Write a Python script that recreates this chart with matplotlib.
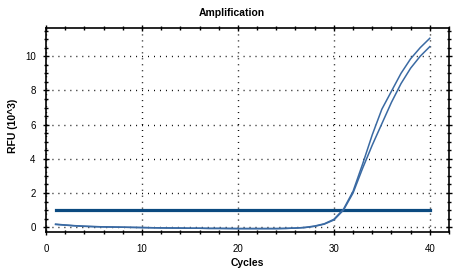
import numpy as np
import matplotlib
matplotlib.use("Agg")
import matplotlib.pyplot as plt
from matplotlib.ticker import MultipleLocator

plt.rcParams['font.family'] = ['Liberation Sans', 'DejaVu Sans']

cycles = list(range(1, 41))
rfu_a = [0.18, 0.13, 0.09, 0.06, 0.04, 0.02, 0.01, 0.0, -0.01, -0.02,
         -0.03, -0.04, -0.05, -0.05, -0.06, -0.06, -0.07, -0.07, -0.08, -0.08,
         -0.08, -0.08, -0.08, -0.08, -0.07, -0.05, -0.01, 0.07, 0.2, 0.46,
         1.05, 2.1, 3.7, 5.4, 6.9, 7.95, 9.0, 9.85, 10.5, 11.05]
rfu_b = [0.16, 0.12, 0.08, 0.05, 0.03, 0.02, 0.01, 0.0, -0.01, -0.02,
         -0.03, -0.04, -0.04, -0.05, -0.06, -0.06, -0.07, -0.07, -0.07, -0.08,
         -0.08, -0.08, -0.08, -0.08, -0.07, -0.05, -0.02, 0.05, 0.18, 0.42,
         1.0, 2.0, 3.45, 4.8, 6.05, 7.3, 8.4, 9.3, 10.0, 10.56]
threshold = 1.0
thr_x = [1, 40]

fig = plt.figure(figsize=(4.64, 2.76), dpi=100)
ax = fig.add_axes([46/464, 1-232/276, (449-46)/464, (232-28)/276])

ax.plot(thr_x, [threshold, threshold], color='#0b4a80', lw=2.3, zorder=3)
ax.plot(cycles, rfu_a, color='#3a6aa3', lw=1.1, zorder=4)
ax.plot(cycles, rfu_b, color='#3a6aa3', lw=1.1, zorder=4)

ax.set_xlim(0, 42)
ax.set_ylim(-0.28, 11.65)
ax.xaxis.set_major_locator(MultipleLocator(10))
ax.xaxis.set_minor_locator(MultipleLocator(2))
ax.yaxis.set_major_locator(MultipleLocator(2))
ax.yaxis.set_minor_locator(MultipleLocator(0.5))

ax.grid(True, which='major', color='black', lw=1.0, linestyle=(0, (0.7, 3.6)))
ax.tick_params(which='both', direction='inout', top=True, right=True,
               labelsize=7, width=1)
ax.tick_params(which='major', length=5)
ax.tick_params(which='minor', length=2.5)
ax.tick_params(axis='x', pad=6)
ax.tick_params(axis='y', pad=5)
for s in ax.spines.values():
    s.set_linewidth(1.2)

fig.text(0.5, 1-13/276, 'Amplification', fontsize=7.5, fontweight='bold',
         ha='center', va='center')
ax.set_xlabel('Cycles', fontsize=7.5, fontweight='bold', va='center')
ax.set_ylabel('RFU (10^3)', fontsize=7.5, fontweight='bold', va='center')
ax.xaxis.set_label_coords(0.5, -0.152)
ax.yaxis.set_label_coords(-0.082, 0.52)

fig.savefig('out.png', dpi=100)
